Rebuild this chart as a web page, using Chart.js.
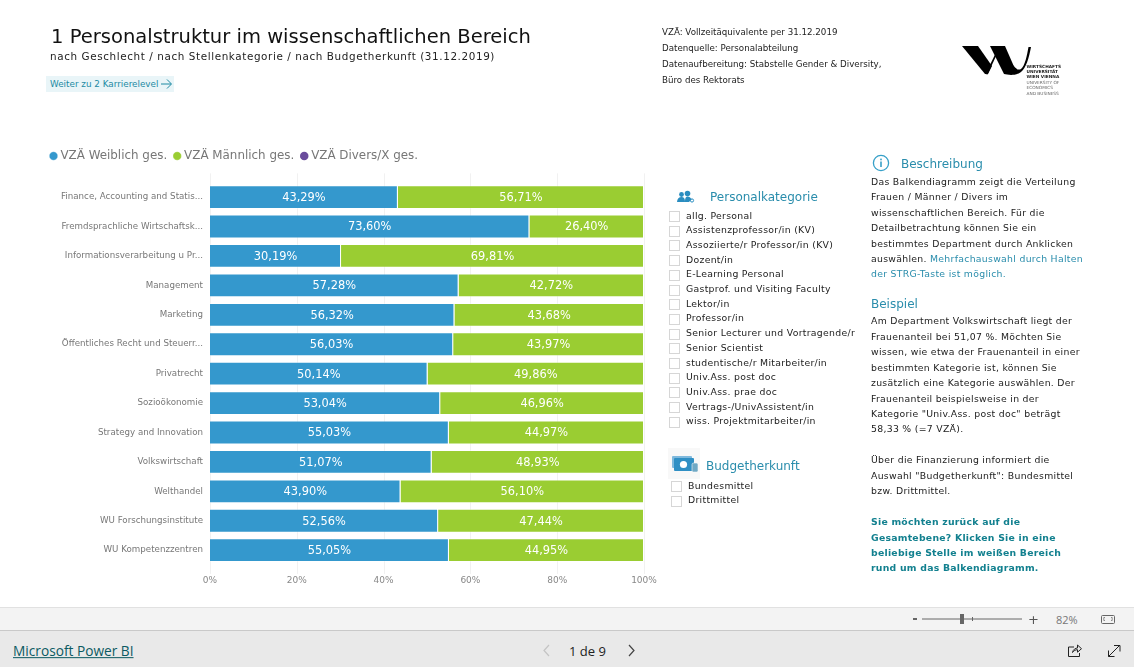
<!DOCTYPE html>
<html lang="de"><head><meta charset="utf-8">
<script src="https://cdn.jsdelivr.net/npm/chart.js@4"></script>
<style>
html,body{margin:0;padding:0;background:#fff;width:1134px;height:667px;overflow:hidden;font-family:"DejaVu Sans",sans-serif}
.t{position:absolute;white-space:nowrap;line-height:1;transform:translateY(-50%)}
#c{position:absolute;left:0;top:0}
#wrap{position:absolute;left:0;top:0;width:1134px;height:607px}
svg{position:absolute}
</style></head><body>
<div id="wrap"><canvas id="c" width="1134" height="607"></canvas></div>
<div id="ui"></div>
<svg style="left:0;top:0" width="1134" height="667" id="icons"></svg>
<script>
const categories=["Finance, Accounting and Statis...","Fremdsprachliche Wirtschaftsk...","Informationsverarbeitung u Pr...","Management","Marketing","Öffentliches Recht und Steuerr...","Privatrecht","Sozioökonomie","Strategy and Innovation","Volkswirtschaft","Welthandel","WU Forschungsinstitute","WU Kompetenzzentren"];
const weiblich=[43.29,73.60,30.19,57.28,56.32,56.03,50.14,53.04,55.03,51.07,43.90,52.56,55.05];
const maennlich=[56.71,26.40,69.81,42.72,43.68,43.97,49.86,46.96,44.97,48.93,56.10,47.44,44.95];
const divers=[0,0,0,0,0,0,0,0,0,0,0,0,0];
const seriesNames=["VZÄ Weiblich ges.","VZÄ Männlich ges.","VZÄ Divers/X ges."];
const xTicks=[0,20,40,60,80,100];
const personal=["allg. Personal","Assistenzprofessor/in (KV)","Assoziierte/r Professor/in (KV)","Dozent/in","E-Learning Personal","Gastprof. und Visiting Faculty","Lektor/in","Professor/in","Senior Lecturer und Vortragende/r","Senior Scientist","studentische/r Mitarbeiter/in","Univ.Ass. post doc","Univ.Ass. prae doc","Vertrags-/UnivAssistent/in","wiss. Projektmitarbeiter/in"];
const budget=["Bundesmittel","Drittmittel"];

const ui=document.getElementById('ui');
const LS="letter-spacing:.3px;";
function T(x,y,s,size,color,extra){const d=document.createElement('div');d.className='t';d.textContent=s;d.style.cssText=`left:${x}px;top:${y}px;font-size:${size}px;color:${color};${extra||''}`;ui.appendChild(d);return d;}
function R(x,y,w,h,bg,extra){const d=document.createElement('div');d.style.cssText=`position:absolute;left:${x}px;top:${y}px;width:${w}px;height:${h}px;background:${bg};${extra||''}`;ui.appendChild(d);}

T(51,37,"1 Personalstruktur im wissenschaftlichen Bereich",19.55,"#111");
T(50,56,"nach Geschlecht / nach Stellenkategorie / nach Budgetherkunft (31.12.2019)",10.4,"#222","letter-spacing:.6px");
R(46,76,128,16,"#e9f5f8");
T(50,84,"Weiter zu 2 Karrierelevel",8.8,"#1d8aa3");
[["VZÄ: Vollzeitäquivalente per 31.12.2019",32],["Datenquelle: Personalabteilung",48],["Datenaufbereitung: Stabstelle Gender & Diversity,",64],["Büro des Rektorats",80]].forEach(a=>T(662,a[1],a[0],8.7,"#222"));

T(710,197,"Personalkategorie",12,"#2a8dac");
personal.forEach((p,i)=>{const y=215.5+i*14.7;R(669,Math.round(y-4.5),9,9,"#fff","border:1px solid #d6d6d6");T(686,y,p,9.3,"#222",LS);});
T(706,466,"Budgetherkunft",12,"#2a8dac");
budget.forEach((p,i)=>{const y=485.5+i*14.7;R(671,Math.round(y-4.5),9,9,"#fff","border:1px solid #d6d6d6");T(688,y,p,9.3,"#222",LS);});

T(901,164,"Beschreibung",12,"#2a8dac");
[["Das Balkendiagramm zeigt die Verteilung",182],["Frauen / Männer / Divers im",197],["wissenschaftlichen Bereich. Für die",212.5],["Detailbetrachtung können Sie ein",228],["bestimmtes Department durch Anklicken",243.5]].forEach(a=>T(871,a[1],a[0],9.3,"#222",LS));
const l=T(871,259,"auswählen. ",9.3,"#222",LS);const sp=document.createElement('span');sp.textContent="Mehrfachauswahl durch Halten";sp.style.color="#2a8dac";l.appendChild(sp);
T(871,274,"der STRG-Taste ist möglich.",9.3,"#2a8dac",LS);
T(871,304,"Beispiel",12,"#2a8dac");
[["Am Department Volkswirtschaft liegt der",321],["Frauenanteil bei 51,07 %. Möchten Sie",336.5],["wissen, wie etwa der Frauenanteil in einer",352],["bestimmten Kategorie ist, können Sie",367.5],["zusätzlich eine Kategorie auswählen. Der",383],["Frauenanteil beispielsweise in der",398.5],["Kategorie \"Univ.Ass. post doc\" beträgt",413.5],["58,33 % (=7 VZÄ).",429],["Über die Finanzierung informiert die",460],["Auswahl \"Budgetherkunft\": Bundesmittel",475.5],["bzw. Drittmittel.",491]].forEach(a=>T(871,a[1],a[0],9.3,"#222",LS));
[["Sie möchten zurück auf die",522],["Gesamtebene? Klicken Sie in eine",537.5],["beliebige Stelle im weißen Bereich",553],["rund um das Balkendiagramm.",568]].forEach(a=>T(871,a[1],a[0],9.3,"#12808f","font-weight:bold;letter-spacing:.25px"));

[["WIRTSCHAFTS",1],["UNIVERSITÄT",1],["WIEN VIENNA",1],["UNIVERSITY OF",0],["ECONOMICS",0],["AND BUSINESS",0]].forEach((a,i)=>T(1026.5,66.5+i*5.4,a[0],4.3,a[1]?"#222":"#666",a[1]?"font-weight:bold":""));

/* footer */
R(0,607,1134,23,"#f3f3f3","border-top:1px solid #e1e1e1;box-sizing:border-box");
R(0,630,1134,37,"#e9e9e9","border-top:1px solid #c9c9c9;box-sizing:border-box");
T(13,651,"Microsoft Power BI",13.7,"#0b5a62",'font-family:"Open Sans";text-decoration:underline');
T(569,650.5,"1 de 9",13,"#222",'font-family:"Open Sans"');
T(1056,619,"82%",11,"#777",'font-family:"Open Sans"');
R(913,618,4,2,"#666");
T(1028,619,"+",13,"#555");

document.getElementById('icons').innerHTML=`
<g fill="none" stroke="#37a0c8" stroke-width="1.3"><circle cx="881" cy="163" r="7.6"/></g>
<g fill="#37a0c8"><rect x="880.2" y="161.5" width="1.6" height="5.5"/><rect x="880.2" y="158.6" width="1.6" height="1.7"/></g>
<path d="M962 46H978L992 66L988 74H985Z" fill="#000"/>
<path d="M985.5 74L998.5 47.5H1000L987.5 74.5Z" fill="#000"/>
<path d="M990 46H1005L1012 62C1014 68 1018 71 1021 69C1025 66 1027 55 1028.5 47H1031C1029 58 1026 68 1021 72C1016 76 1008 75 1004 74Z" fill="#000"/>
<path d="M161 84H171M167 79.5L171.5 84L167 88.5" fill="none" stroke="#1d8aa3" stroke-width="1"/>
<g fill="#2a8dc0"><circle cx="681.5" cy="194.5" r="2.4"/><path d="M677 202c.2-3.5 2-5 4.5-5s3.5 1.5 3.5 5z"/><circle cx="687.5" cy="193.5" r="2.8"/><path d="M685 202c0-4 .8-5.5 2.7-5.5s3.3 1.5 3.8 3l-2.5 2.5z"/></g><circle cx="692" cy="200.5" r="1.6" fill="none" stroke="#2a8dc0" stroke-width="1"/>
<rect x="668" y="448" width="32" height="31" fill="#f8f8f8"/>
<rect x="672" y="456" width="20" height="12" rx="1" fill="#7fb9dd"/><rect x="674" y="458" width="20" height="13" rx="1" fill="#2f8fc4"/><circle cx="683.5" cy="464.5" r="3.6" fill="#fff"/><rect x="692" y="463" width="6" height="9" rx="1.5" fill="#6fa9c5" stroke="#f8f8f8" stroke-width=".6"/>
<path d="M922 619H1022" stroke="#666" stroke-width="1"/><rect x="960" y="614" width="4" height="10" fill="#666"/><path d="M972.5 617V621" stroke="#666"/>
<rect x="1101.5" y="615.5" width="13" height="8" rx="1" fill="none" stroke="#666"/>
<path d="M1105 617.5h-1.2v3h1.2M1111 617.5h1.2v3h-1.2" fill="none" stroke="#666" stroke-width=".7"/>
<path d="M547 645l-5 5.5 5 5.5" transform="translate(2,0)" fill="none" stroke="#c4c4c4" stroke-width="1.2"/>
<path d="M629 645l5 5.5-5 5.5" fill="none" stroke="#444" stroke-width="1.2"/>
<path d="M1074 647h-5.5v9.5h11v-3.5M1072.5 652.5c.5-3 3-4.5 5-4.5v-3l4 3.7-4 3.5v-2.5c-2 0-3.5.8-5 2.8z" fill="none" stroke="#222" stroke-width="1"/>
<path d="M1108.5 656.5l11-11M1114 645.5h6v6M1108.5 650.5v6h6" fill="none" stroke="#222" stroke-width="1"/>`;

const valueLabels={id:'valueLabels',afterDatasetsDraw(chart){const{ctx}=chart;ctx.save();ctx.font='11.4px "DejaVu Sans"';ctx.fillStyle='#fff';ctx.textAlign='center';ctx.textBaseline='middle';
 chart.data.datasets.forEach((ds,i)=>{chart.getDatasetMeta(i).data.forEach((el,j)=>{const v=ds.data[j];if(!v)return;const p=el.getProps(['x','base','y'],true);ctx.fillText(v.toFixed(2).replace('.',',')+'%',(p.x+p.base)/2,p.y+1);});});ctx.restore();}};
const gridExt={id:'gridExt',beforeDatasetsDraw(chart){const{ctx,chartArea:a,scales:{x}}=chart;ctx.save();ctx.strokeStyle='#f1f1f1';ctx.lineWidth=1;xTicks.forEach(t=>{const px=Math.round(x.getPixelForValue(t))+.5;ctx.beginPath();ctx.moveTo(px,a.top-9);ctx.lineTo(px,a.bottom+9);ctx.stroke();});ctx.restore();}};
const legendGap={id:'legendGap',beforeInit(chart){const f=chart.legend.fit;chart.legend.fit=function(){f.call(this);this.height+=10.5;};}};

new Chart(document.getElementById('c'),{type:'bar',
 data:{labels:categories,datasets:[
  {label:seriesNames[0],data:weiblich,backgroundColor:'#3498cd',borderWidth:1,borderColor:'rgba(255,255,255,.3)'},
  {label:seriesNames[1],data:maennlich,backgroundColor:'#9acd32',borderWidth:1,borderColor:'rgba(255,255,255,.3)'},
  {label:seriesNames[2],data:divers,backgroundColor:'#6a4c9c'}]},
 options:{indexAxis:'y',responsive:false,animation:false,
  layout:{padding:{left:43.5,right:490,top:141,bottom:18.7}},
  datasets:{bar:{categoryPercentage:1,barPercentage:.81,stack:'s'}},
  plugins:{tooltip:{enabled:false},
   legend:{position:'top',align:'start',labels:{usePointStyle:true,pointStyle:'circle',boxWidth:2,boxHeight:6,padding:9,color:'#777',font:{family:'"DejaVu Sans"',size:11.9}}}},
  scales:{
   x:{stacked:true,min:0,max:100,afterBuildTicks(s){s.ticks=xTicks.map(value=>({value}));},
      grid:{display:false},border:{display:false},
      ticks:{color:'#888',font:{family:'"DejaVu Sans"',size:9},padding:2.3,maxRotation:0,callback:v=>v+'%'}},
   y:{stacked:true,grid:{display:false},border:{display:false},afterFit(s){s.width=166.5;},
      ticks:{color:'#777',font:{family:'"DejaVu Sans"',size:8.7},padding:-1,autoSkip:false}}
  }},
 plugins:[legendGap,gridExt,valueLabels]});
</script></body></html>
